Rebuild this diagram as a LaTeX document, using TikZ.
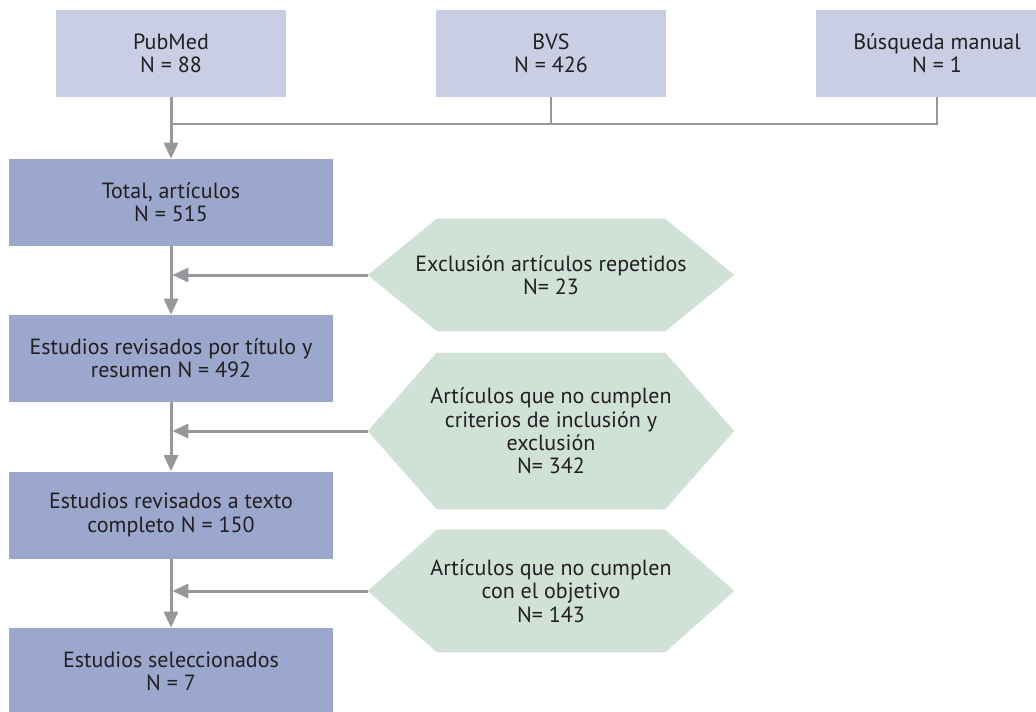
\documentclass[tikz,border=0pt]{standalone}
\usepackage{fontspec}
\setmainfont{PT Sans}
\usetikzlibrary{arrows.meta,backgrounds}

\definecolor{srcfill}{HTML}{C9CEE4}
\definecolor{stepfill}{HTML}{9BA7CC}
\definecolor{exfill}{HTML}{D0E2D8}
\definecolor{linegray}{HTML}{97989C}
\definecolor{txtgray}{HTML}{231F20}

\tikzset{
  boxtext/.style={align=center,text=txtgray,font=\fontsize{16.5}{17.5}\selectfont},
  srcbox/.style={boxtext,fill=srcfill,minimum width=172.5pt,minimum height=65.25pt},
  stepbox/.style={boxtext,fill=stepfill,minimum width=243pt,minimum height=65.25pt},
  exbox/.style={boxtext,minimum width=274.5pt},
  conn/.style={draw=linegray,line width=1.5pt},
  arr/.style={draw=linegray,line width=2.25pt,-{Triangle[length=12pt,width=10.5pt]}}
}

\begin{document}
\begin{tikzpicture}[x=0.75pt,y=-0.75pt]
\clip (0,0) rectangle (1036,711);

% fuentes
\node[srcbox] (pub) at (171,53.5) {PubMed\\N = 88};
\node[srcbox] (bvs) at (551,53.5) {BVS\\N = 426};
\node[srcbox,minimum width=181.5pt] (bus) at (937,53.5) {Búsqueda manual\\N = 1};

% pasos
\node[stepbox] (total) at (171,202.5) {Total, artículos\\N = 515};
\node[stepbox] (rev) at (171,358.5) {Estudios revisados por título y\\resumen N = 492};
\node[stepbox] (full) at (171,515) {Estudios revisados a texto\\completo N = 150};
\node[stepbox] (sel) at (171,671.5) {Estudios seleccionados\\N = 7};

% exclusiones
\node[exbox,minimum height=84pt] (exA) at (551,275) {Exclusión artículos repetidos\\N= 23};
\node[exbox,minimum height=117pt] (exB) at (551,431) {Artículos que no cumplen\\criterios de inclusión y\\exclusión\\N= 342};
\node[exbox,minimum height=91.5pt] (exC) at (551,591) {Artículos que no cumplen\\con el objetivo\\N= 143};

\begin{scope}[on background layer]
\foreach \h in {exA,exB,exC}
  \fill[exfill] ([xshift=51.75pt]\h.north west) -- ([xshift=-51.75pt]\h.north east) -- (\h.east)
    -- ([xshift=-51.75pt]\h.south east) -- ([xshift=51.75pt]\h.south west) -- (\h.west) -- cycle;
\end{scope}

\coordinate (jn) at (171,124);
\draw[conn] (bus.south) |- (jn);
\draw[conn] (bvs.south) -- (bvs.south |- jn);
\draw[arr] (pub.south) -- (total.north);
\draw[arr] (total.south) -- (rev.north);
\draw[arr] (rev.south) -- (full.north);
\draw[arr] (full.south) -- (sel.north);
\draw[arr,shorten >=1pt] (exA.west) -- (exA.west -| total.south);
\draw[arr,shorten >=1pt] (exB.west) -- (exB.west -| rev.south);
\draw[arr,shorten >=1pt] (exC.west) -- (exC.west -| full.south);
\end{tikzpicture}
\end{document}
